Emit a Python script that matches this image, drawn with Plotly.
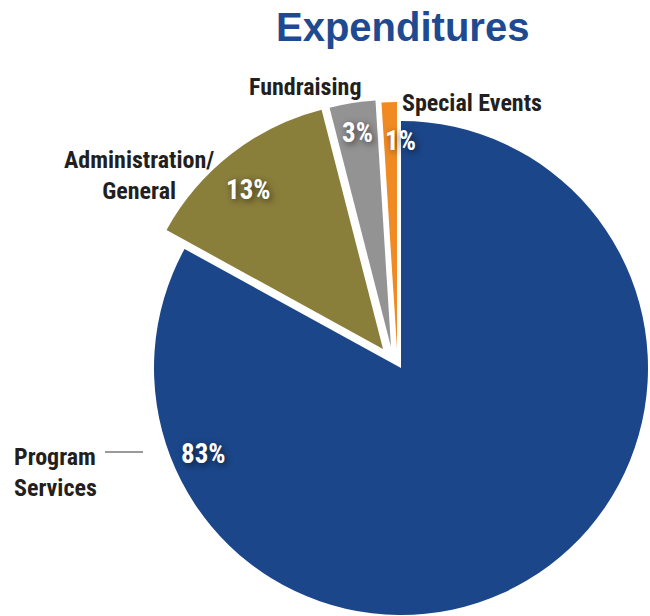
import plotly.graph_objects as go

# ---- data ----
categories = ["Program Services", "Administration/General", "Fundraising", "Special Events"]
label_lines = ["Program<br>Services", "Administration/<br>General", "Fundraising", "Special Events"]
values = [83, 13, 3, 1]
colors = ["#1b4689", "#8a7e3b", "#939393", "#ef8b22"]

W, H = 650, 616
R = 247
CX, CY = 401, 368
# per-slice offsets (pull) in px
offsets = [(0, 0), (-18, -19), (-10, -21), (-4, -19)]


def PX(x):
    return x / W


def PY(y):
    return 1 - y / H


def domain(cx, cy, r):
    return dict(x=[max(0, PX(cx - r)), min(1, PX(cx + r))],
                y=[max(0, PY(cy + r)), min(1, PY(cy - r))])


fig = go.Figure()
for i, (dx, dy) in enumerate(offsets):
    cols = [colors[j] if j == i else "rgba(0,0,0,0)" for j in range(len(values))]
    fig.add_trace(go.Pie(
        labels=categories, values=values, sort=False, direction="clockwise",
        rotation=0, marker=dict(colors=cols, line=dict(width=0)),
        textinfo="none", hoverinfo="skip", showlegend=False,
        domain=domain(CX + dx, CY + dy, R),
    ))

FAM = "Roboto Condensed, Liberation Sans Narrow, DejaVu Sans Condensed, Arial Narrow, sans-serif"
LABEL_FONT = dict(family=FAM, size=24, color="#231f20", weight=700)
PCT_FONT = dict(family=FAM, size=27, color="white", weight=700,
                shadow="2px 2px 7px rgba(0,0,0,0.6)")

# positions (px) for percentage texts and labels
pct_pos = [(203, 454), (248, 190), (357, 133), (400, 141)]
lab_pos = [(12, 472, "left"), (139, 175, "center"), (305, 87, "center"), (472, 103, "center")]

ann = []
for v, (x, y) in zip(values, pct_pos):
    ann.append(dict(text=f"{v}%", x=PX(x), y=PY(y), xref="paper", yref="paper",
                    showarrow=False, font=PCT_FONT, xanchor="center", yanchor="middle"))
for t, (x, y, al) in zip(label_lines, lab_pos):
    ann.append(dict(text=t, x=PX(x), y=PY(y), xref="paper", yref="paper",
                    showarrow=False, font=LABEL_FONT, xanchor=al, yanchor="middle",
                    align=al))
ann.append(dict(text="Expenditures", x=PX(402), y=PY(27), xref="paper", yref="paper",
                showarrow=False, xanchor="center", yanchor="middle", borderpad=0,
                font=dict(family="Liberation Sans, Arial, sans-serif", size=40,
                          color="#1d4a91", weight=700)))

fig.update_layout(
    width=W, height=H, margin=dict(l=0, r=0, t=0, b=0),
    paper_bgcolor="white", plot_bgcolor="white",
    annotations=ann,
    shapes=[dict(type="line", xref="paper", yref="paper",
                 x0=PX(105), x1=PX(143), y0=PY(452), y1=PY(452),
                 line=dict(color="#9a9a9a", width=2))],
)
fig.write_html("out.html", config={"displayModeBar": False},
               post_script="document.body.style.margin='0';document.body.style.overflow='hidden';")
